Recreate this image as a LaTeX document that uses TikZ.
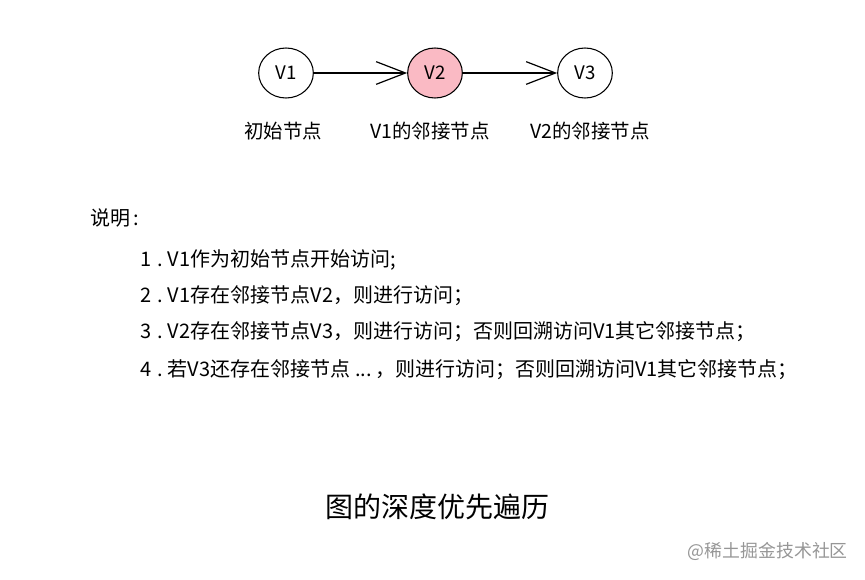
\documentclass[tikz,border=0pt]{standalone}
\usepackage{fontspec}
\setmainfont{Noto Sans CJK SC}
\usetikzlibrary{arrows.meta,positioning,shapes.geometric}
\definecolor{visitpink}{RGB}{250,186,196}
\definecolor{markgray}{RGB}{150,150,150}
\newcommand{\itemno}[1]{#1\hspace{0.3em}.\hspace{0.25em}}
\tikzset{x=0.75pt, y=-0.75pt,
    vertex/.style={draw, line width=0.8pt, ellipse, minimum width=41pt, minimum height=37.5pt, inner sep=0pt, font=\fontsize{14pt}{16pt}\selectfont},
    tag/.style={font=\fontsize{14.6pt}{17pt}\selectfont},
    note/.style={anchor=west, inner sep=0pt, font=\fontsize{15pt}{17pt}\selectfont},
    link/.style={line width=0.9pt, -{Straight Barb[length=22pt, width=17pt, line width=0.9pt]}}}

\begin{document}
\begin{tikzpicture}
    \useasboundingbox (0,0) rectangle (865,580);
    % the three vertices
    \node[vertex] (v1) at (286,73) {V1};
    \node[vertex, fill=visitpink] (v2) at (435,73) {V2};
    \node[vertex] (v3) at (585,73) {V3};
    \draw[link] (v1) -- (v2);
    \draw[link] (v2) -- (v3);
    \node[tag] (t1) at (283,131) {初始节点};
    \node[tag] (t2) at (430,131) {V1的邻接节点};
    \node[tag] (t3) at (590,131) {V2的邻接节点};
    % explanation
    \node[note] (n0) at (90,218) {说明\hspace{0.15em}:};
    \node[note] (n1) at (140,260) {\itemno{1}V1作为初始节点开始访问;};
    \node[note] (n2) at (140,296) {\itemno{2}V1存在邻接节点V2，则进行访问；};
    \node[note] (n3) at (140,332) {\itemno{3}V2存在邻接节点V3，则进行访问；否则回溯访问V1其它邻接节点；};
    \node[note] (n4) at (140,370) {\itemno{4}若V3还存在邻接节点 ...\,，则进行访问；否则回溯访问V1其它邻接节点；};
    \node[font=\fontsize{21pt}{24pt}\selectfont] (title) at (437,507) {图的深度优先遍历};
    \node[anchor=east, inner sep=0pt, text=markgray, font=\fontsize{13.4pt}{15pt}\selectfont] (mark) at (848,551) {@稀土掘金技术社区};
\end{tikzpicture}
\end{document}
